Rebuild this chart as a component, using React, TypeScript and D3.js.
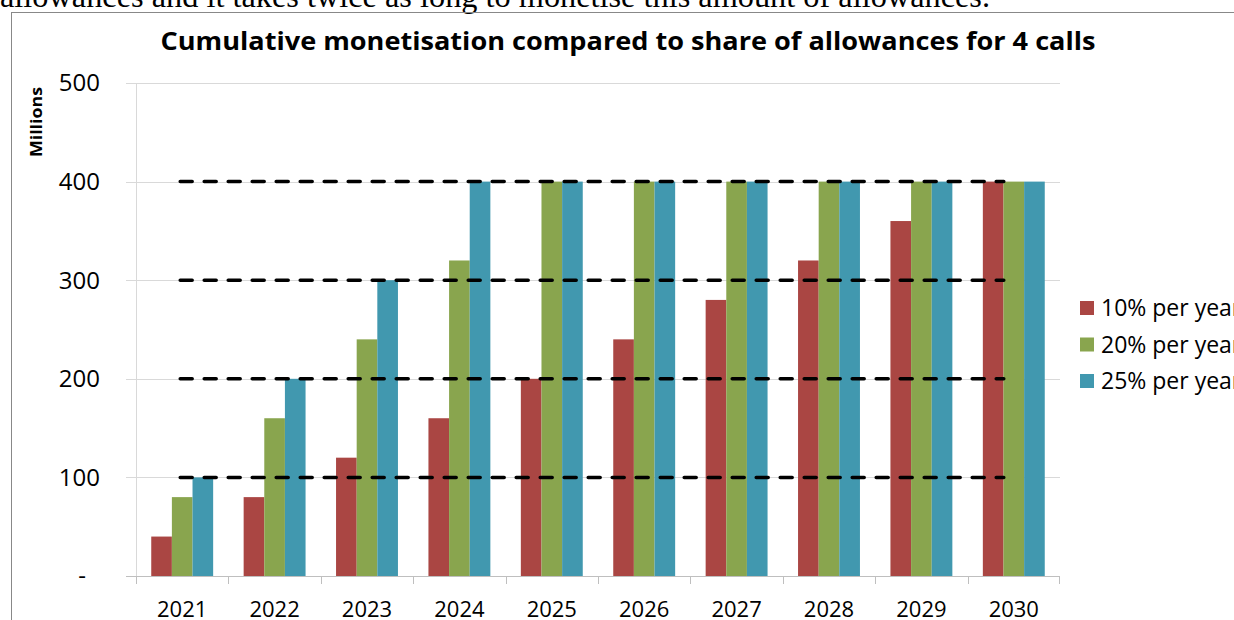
import React from "react";
import * as d3 from "d3";

const years = ["2021", "2022", "2023", "2024", "2025", "2026", "2027", "2028", "2029", "2030"];
const seriesNames = ["10% per year", "20% per year", "25% per year"];
const tenPct = [40, 80, 120, 160, 200, 240, 280, 320, 360, 400];
const twentyPct = [80, 160, 240, 320, 400, 400, 400, 400, 400, 400];
const twentyFivePct = [100, 200, 300, 400, 400, 400, 400, 400, 400, 400];
const dashedLevels = [100, 200, 300, 400];
const yTicks = [0, 100, 200, 300, 400, 500];
const colors = ["#AA4643", "#89A54E", "#4198AF"];

const W = 1234;
const H = 620;
const left = 136;
const right = 1060;
const top = 83;
const bottom = 576;
const font = "'Open Sans', sans-serif";

export default function App() {
  const x = d3.scaleBand<string>().domain(years).range([left, right]).paddingInner(0.33).paddingOuter(0.165);
  const band = d3.scaleBand<string>().domain(years).range([left, right]);
  const xs = d3.scaleBand<number>().domain([0, 1, 2]).range([0, x.bandwidth()]);
  const y = d3.scaleLinear().domain([0, 500]).range([bottom, top]);
  const series = [tenPct, twentyPct, twentyFivePct];
  const centerFirst = (band(years[0]) as number) + band.bandwidth() / 2;
  const centerLast = (band(years[years.length - 1]) as number) + band.bandwidth() / 2;

  return (
    <svg width={W} height={H} style={{ position: "absolute", left: 0, top: 0, background: "#fff" }}>
      <text x={0} y={7} fontFamily="'Liberation Serif', 'Times New Roman', serif" fontSize={32} textLength={990} lengthAdjust="spacingAndGlyphs" fill="#000">
        allowances and it takes twice as long to monetise this amount of allowances.
      </text>
      <line x1={11} y1={12.5} x2={W} y2={12.5} stroke="#888" strokeWidth={1} />
      <line x1={11.5} y1={12} x2={11.5} y2={H} stroke="#888" strokeWidth={1} />

      <text x={628} y={50} textAnchor="middle" fontFamily={font} fontWeight="bold" fontSize={25} textLength={935} lengthAdjust="spacingAndGlyphs" fill="#000">
        Cumulative monetisation compared to share of allowances for 4 calls
      </text>

      <text transform={`translate(42,122) rotate(-90)`} textAnchor="middle" fontFamily={font} fontWeight="bold" fontSize={16} textLength={70} lengthAdjust="spacingAndGlyphs" fill="#000">
        Millions
      </text>

      {yTicks.map((t) => (
        <g key={t}>
          <line x1={126} x2={right} y1={Math.round(y(t)) + 0.5} y2={Math.round(y(t)) + 0.5} stroke={t === 0 ? "#bfbfbf" : "#d9d9d9"} strokeWidth={1} />
          <text x={t === 0 ? 86 : 100} y={y(t)} dy="0.35em" textAnchor="end" fontFamily={font} fontSize={24} fill="#000">
            {t === 0 ? "-" : String(t)}
          </text>
        </g>
      ))}
      <line x1={left + 0.5} x2={left + 0.5} y1={top} y2={bottom} stroke="#d9d9d9" />
      {years.map((yr) => (
        <line key={"tk" + yr} x1={Math.round(band(yr) as number) + 0.5} x2={Math.round(band(yr) as number) + 0.5} y1={bottom} y2={bottom + 8} stroke="#bfbfbf" />
      ))}
      <line x1={right - 0.5} x2={right - 0.5} y1={bottom} y2={bottom + 8} stroke="#bfbfbf" />

      {years.map((yr, i) => (
        <g key={yr}>
          {series.map((s, k) => (
            <rect key={k} x={(x(yr) as number) + (xs(k) as number)} y={y(s[i])} width={xs.bandwidth()} height={bottom - y(s[i])} fill={colors[k]} />
          ))}
          <text x={(band(yr) as number) + band.bandwidth() / 2} y={617} textAnchor="middle" fontFamily={font} fontSize={22} fill="#000">
            {yr}
          </text>
        </g>
      ))}

      {dashedLevels.map((lv) => (
        <line key={"d" + lv} x1={centerFirst - 2} x2={centerLast - 10} y1={y(lv)} y2={y(lv)} stroke="#000" strokeWidth={3.5} strokeDasharray="12,12" strokeLinecap="round" />
      ))}

      {seriesNames.map((n, k) => (
        <g key={n} transform={`translate(1080,${308 + k * 36.5})`}>
          <rect x={0} y={-7} width={14} height={14} fill={colors[k]} />
          <text x={21} y={0} dy="0.35em" fontFamily={font} fontSize={23} fill="#000">
            {n}
          </text>
        </g>
      ))}
    </svg>
  );
}
